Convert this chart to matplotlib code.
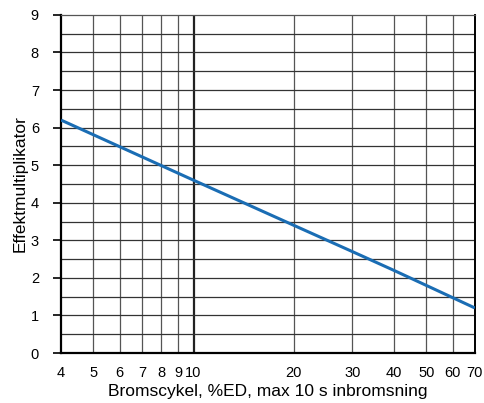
import numpy as np
import matplotlib
matplotlib.use("Agg")
import matplotlib.pyplot as plt
from matplotlib.ticker import FixedLocator, NullLocator, NullFormatter

plt.rcParams['font.family'] = ['Liberation Sans', 'DejaVu Sans']

# data
ed = [4, 10, 20, 30, 40, 70]
mult = [6.2, 4.6, 3.4, 2.7, 2.2, 1.2]

xticks = [4, 5, 6, 7, 8, 9, 10, 20, 30, 40, 50, 60, 70]
yticks = list(range(0, 10))
ygrid = np.arange(0.5, 9.0, 0.5)

fig = plt.figure(figsize=(4.85, 4.03), dpi=100)
ax = fig.add_axes([0.126, 0.124, 0.853, 0.839])

ax.set_xscale('log')
ax.set_xlim(4, 70)
ax.set_ylim(0, 9)

# grid
for x in xticks[1:-1]:
    lw = 1.6 if x == 10 else 0.9
    c = '#222222' if x == 10 else '#555555'
    ax.axvline(x, color=c, lw=lw, zorder=1)
for y in ygrid:
    ax.axhline(y, color='#333333', lw=0.9, zorder=1)

ax.plot(ed, mult, color='#1a6db4', lw=2.2, zorder=3, solid_capstyle='butt')

ax.xaxis.set_major_locator(FixedLocator(xticks))
ax.xaxis.set_minor_locator(NullLocator())
ax.xaxis.set_minor_formatter(NullFormatter())
ax.set_xticklabels([str(t) for t in xticks])
ax.set_yticks(yticks)

ax.tick_params(axis='x', length=0, pad=9, labelsize=10.5)
ax.tick_params(axis='y', length=6, width=1.2, pad=10, labelsize=10.5, direction='out')

for s in ['left', 'bottom']:
    ax.spines[s].set_linewidth(1.6)
ax.spines['right'].set_linewidth(1.4)
ax.spines['top'].set_linewidth(0.9)
ax.spines['top'].set_color('#555555')

ax.set_xlabel('Bromscykel, %ED, max 10 s inbromsning', fontsize=12.5, labelpad=3)
ax.set_ylabel('Effektmultiplikator', fontsize=12.5, labelpad=2)

fig.savefig('out.png', dpi=100)
